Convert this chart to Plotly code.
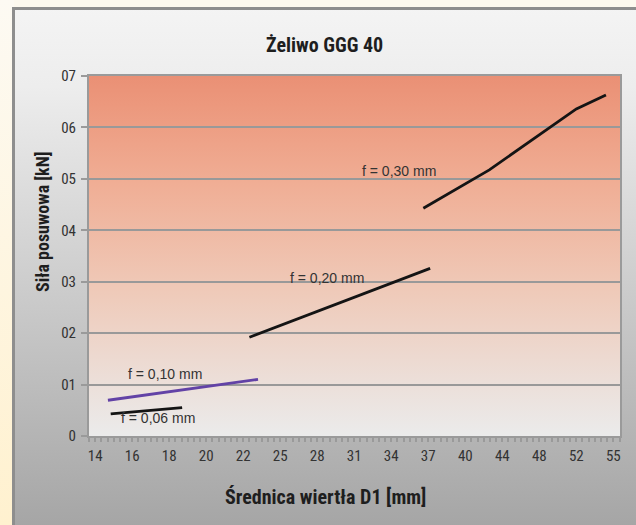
import base64
import numpy as np
import plotly.graph_objects as go

# ---- data ----
x_labels = [14, 16, 18, 20, 22, 25, 28, 31, 34, 37, 40, 44, 48, 52, 55]
y_ticks = [0.0, 0.1, 0.2, 0.3, 0.4, 0.5, 0.6, 0.7]
y_ticktext = ["0", "01", "02", "03", "04", "05", "06", "07"]

d_006 = [14.84, 18.7]
f_006 = [0.043, 0.055]
d_010 = [14.69, 23.2]
f_010 = [0.0695, 0.110]
d_020 = [22.5, 37.15]
f_020 = [0.192, 0.326]
d_030 = [36.6, 42.6, 52.0, 54.4]
f_030 = [0.443, 0.5175, 0.636, 0.663]

series_names = ["f = 0,06 mm", "f = 0,10 mm", "f = 0,20 mm", "f = 0,30 mm"]
label_d = [17.41, 17.75, 28.77, 34.6]
label_f = [0.0356, 0.120, 0.308, 0.516]

title = "Żeliwo GGG 40"
x_title = "Średnica wiertła D1 [mm]"
y_title = "Siła posuwowa [kN]"

# category axis position of a diameter
label_idx = list(range(len(x_labels)))
def pos(d):
    return np.interp(d, x_labels, label_idx)

def grad_uri(stops, horizontal=False):
    x2, y2 = ("1", "0") if horizontal else ("0", "1")
    st = "".join(f'<stop offset="{o}" stop-color="{c}"/>' for o, c in stops)
    svg = (f'<svg xmlns="http://www.w3.org/2000/svg" width="10" height="100" '
           f'viewBox="0 0 10 100" preserveAspectRatio="none">'
           f'<defs><linearGradient id="g" x1="0" y1="0" x2="{x2}" y2="{y2}">{st}'
           f'</linearGradient></defs><rect width="10" height="100" fill="url(#g)"/></svg>')
    return "data:image/svg+xml;base64," + base64.b64encode(svg.encode()).decode()

W, H = 636, 525
L, R, T, B = 89, 16, 76, 89
pw, ph = W - L - R, H - T - B
def px(x):
    return (x - L) / pw
def py(y):
    return (H - B - y) / ph

narrow = "Liberation Sans Narrow, Arial Narrow, Roboto Condensed, Liberation Sans, sans-serif"

fig = go.Figure()
colors = ["#141414", "#6242a6", "#141414", "#141414"]
for d, f, c, n in zip([d_006, d_010, d_020, d_030], [f_006, f_010, f_020, f_030], colors, series_names):
    fig.add_trace(go.Scatter(x=pos(d), y=f, mode="lines", name=n,
                             line=dict(color=c, width=2.8), showlegend=False, hoverinfo="skip"))

for n, d, f in zip(series_names, label_d, label_f):
    fig.add_annotation(x=float(pos(d)), y=f, xref="x", yref="y", text=n, showarrow=False,
                       xanchor="center", yanchor="middle",
                       font=dict(family="Liberation Sans, Arial, sans-serif", size=14, color="#333333"))

images = [
    # left cream strip
    dict(source=grad_uri([(0, "#fdfaf3"), (1, "#fff1cf")]), xref="paper", yref="paper",
         x=px(0), y=py(0), sizex=px(14) - px(0), sizey=py(0) - py(H), sizing="stretch",
         layer="below", xanchor="left", yanchor="top"),
    # chart frame gradient
    dict(source=grad_uri([(0, "#f4f4f4"), (0.15, "#ededed"), (1, "#a4a4a4")]), xref="paper", yref="paper",
         x=px(12), y=py(7), sizex=px(W + 10) - px(12), sizey=py(7) - py(H + 10), sizing="stretch",
         layer="below", xanchor="left", yanchor="top"),
    # plot area gradient
    dict(source=grad_uri([(0, "#ea9075"), (0.08, "#ec987d"), (0.3, "#f0ae95"), (0.6, "#efcab9"),
                          (0.85, "#ecdfd9"), (1, "#ebebeb")]), xref="paper", yref="paper",
         x=0, y=1, sizex=1, sizey=1, sizing="stretch", layer="below", xanchor="left", yanchor="top"),
]

shapes = [
    dict(type="rect", xref="paper", yref="paper", x0=px(13.5), y0=py(H + 20), x1=px(W + 20), y1=py(8.5),
         line=dict(color="#8e8e8e", width=3), fillcolor="rgba(0,0,0,0)", layer="below"),
]

fig.add_annotation(text=f"<b>{title}</b>", xref="paper", yref="paper", x=px(324.5), y=py(45),
                   xanchor="center", yanchor="middle",
                   showarrow=False, font=dict(family=narrow, size=20, color="#1e1e1e"))
fig.add_annotation(text=f"<b>{x_title}</b>", xref="paper", yref="paper", x=px(325), y=py(497),
                   xanchor="center", yanchor="middle",
                   showarrow=False, font=dict(family=narrow, size=20, color="#1e1e1e"))
fig.add_annotation(text=f"<b>{y_title}</b>", xref="paper", yref="paper", x=px(42), y=py(222),
                   xanchor="center", yanchor="middle",
                   showarrow=False, textangle=-90, font=dict(family=narrow, size=18, color="#1e1e1e"))

fig.update_layout(
    width=W, height=H, margin=dict(l=L, r=R, t=T, b=B),
    paper_bgcolor="#fdf9ef", plot_bgcolor="rgba(0,0,0,0)",
    images=images, shapes=shapes,
    xaxis=dict(range=[-1 / 6, 14.18], tickvals=label_idx, ticktext=[str(v) for v in x_labels],
               ticks="outside", ticklen=4, tickcolor="#9a9a9a", tickwidth=1.5,
               minor=dict(dtick=1 / 6, tick0=0, ticks="outside", ticklen=4, tickcolor="#9a9a9a", tickwidth=1.5),
               showgrid=False, zeroline=False, showline=True, linecolor="#9a9a9a", linewidth=2, mirror=True,
               tickfont=dict(family=narrow, size=15, color="#333333"), ticklabelstandoff=1, fixedrange=True),
    yaxis=dict(range=[0, 0.7], tickvals=y_ticks, ticktext=y_ticktext,
               ticks="outside", ticklen=6, tickcolor="#9a9a9a", tickwidth=2,
               showgrid=True, gridcolor="#999999", gridwidth=2, zeroline=False,
               showline=True, linecolor="#9a9a9a", linewidth=2, mirror=True,
               tickfont=dict(family=narrow, size=15, color="#333333"), ticklabelstandoff=2, fixedrange=True),
)

fig.write_html("out.html")
